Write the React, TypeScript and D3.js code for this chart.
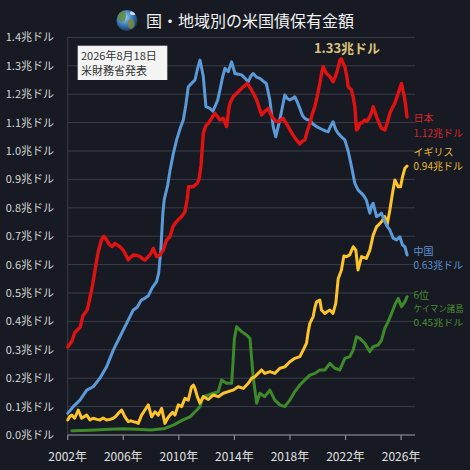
import React from "react";
import * as d3 from "d3";

const W = 470;
const H = 470;

const title = "国・地域別の米国債保有金額";
const yTicks = [0, 0.1, 0.2, 0.3, 0.4, 0.5, 0.6, 0.7, 0.8, 0.9, 1.0, 1.1, 1.2, 1.3, 1.4];
const xTicks = [2002, 2006, 2010, 2014, 2018, 2022, 2026];

const japan: [number, number][] = [
  [2002.0, 0.31], [2002.3, 0.33], [2002.5, 0.36], [2002.9, 0.38], [2003.1, 0.42], [2003.4, 0.44],
  [2003.5, 0.46], [2003.8, 0.53], [2004.1, 0.62], [2004.2, 0.645], [2004.45, 0.69], [2004.6, 0.7],
  [2004.8, 0.687], [2005.0, 0.67], [2005.2, 0.663], [2005.4, 0.675], [2005.6, 0.668], [2005.76, 0.663],
  [2006.0, 0.65], [2006.12, 0.64], [2006.36, 0.616], [2006.5, 0.625], [2006.72, 0.634], [2007.0, 0.632],
  [2007.2, 0.628], [2007.4, 0.62], [2007.56, 0.616], [2007.8, 0.628], [2008.0, 0.64], [2008.16, 0.657],
  [2008.4, 0.628], [2008.64, 0.634], [2008.88, 0.651], [2009.12, 0.687], [2009.36, 0.698], [2009.55, 0.73],
  [2009.72, 0.745], [2010.0, 0.76], [2010.2, 0.769], [2010.44, 0.786], [2010.6, 0.83], [2010.7, 0.874],
  [2011.04, 0.874], [2011.3, 0.885], [2011.45, 0.9], [2011.6, 0.95], [2011.76, 1.062], [2011.95, 1.09],
  [2012.12, 1.097], [2012.35, 1.115], [2012.6, 1.133], [2012.8, 1.12], [2012.96, 1.109], [2013.2, 1.115],
  [2013.44, 1.086], [2013.6, 1.15], [2013.68, 1.168], [2013.9, 1.19], [2014.16, 1.203], [2014.4, 1.215],
  [2014.64, 1.226], [2014.92, 1.238], [2015.1, 1.225], [2015.24, 1.215], [2015.4, 1.2], [2015.6, 1.18],
  [2015.8, 1.15], [2015.96, 1.127], [2016.2, 1.14], [2016.43, 1.15], [2016.6, 1.13], [2016.79, 1.115],
  [2017.0, 1.105], [2017.15, 1.103], [2017.35, 1.11], [2017.51, 1.115], [2017.7, 1.1], [2017.87, 1.086],
  [2018.05, 1.07], [2018.23, 1.056], [2018.45, 1.04], [2018.71, 1.025], [2018.9, 1.035], [2019.07, 1.039],
  [2019.25, 1.07], [2019.43, 1.097], [2019.6, 1.13], [2019.79, 1.156], [2019.95, 1.19], [2020.15, 1.238],
  [2020.3, 1.28], [2020.39, 1.297], [2020.5, 1.285], [2020.63, 1.273], [2020.87, 1.262], [2021.1, 1.244],
  [2021.25, 1.26], [2021.35, 1.273], [2021.5, 1.3], [2021.59, 1.32], [2021.7, 1.325], [2021.78, 1.314],
  [2021.95, 1.297], [2022.1, 1.26], [2022.19, 1.226], [2022.43, 1.215], [2022.55, 1.19], [2022.67, 1.156],
  [2022.75, 1.1], [2022.79, 1.074], [2022.9, 1.08], [2023.03, 1.097], [2023.2, 1.1], [2023.39, 1.109],
  [2023.55, 1.105], [2023.75, 1.121], [2023.9, 1.14], [2023.99, 1.156], [2024.1, 1.14], [2024.23, 1.121],
  [2024.4, 1.1], [2024.59, 1.08], [2024.83, 1.074], [2024.95, 1.09], [2025.19, 1.133], [2025.35, 1.15],
  [2025.55, 1.168], [2025.79, 1.203], [2026.03, 1.238], [2026.12, 1.215], [2026.19, 1.203], [2026.3, 1.17],
  [2026.43, 1.12],
];

const china: [number, number][] = [
  [2002.0, 0.076], [2002.4, 0.1], [2002.88, 0.123], [2003.37, 0.158], [2003.84, 0.17], [2004.32, 0.2],
  [2004.8, 0.24], [2005.28, 0.299], [2005.76, 0.346], [2006.24, 0.393], [2006.72, 0.44], [2007.0, 0.45],
  [2007.3, 0.475], [2007.5, 0.48], [2007.8, 0.49], [2008.1, 0.52], [2008.4, 0.54], [2008.55, 0.57],
  [2008.7, 0.65], [2008.85, 0.78], [2008.95, 0.83], [2009.2, 0.88], [2009.36, 0.93], [2009.6, 0.99],
  [2009.84, 1.039], [2010.1, 1.08], [2010.32, 1.109], [2010.5, 1.16], [2010.68, 1.226], [2010.92, 1.238],
  [2011.16, 1.25], [2011.35, 1.29], [2011.52, 1.32], [2011.65, 1.29], [2011.76, 1.262], [2011.95, 1.156],
  [2012.24, 1.15], [2012.45, 1.14], [2012.6, 1.156], [2012.8, 1.18], [2012.96, 1.215], [2013.15, 1.26],
  [2013.32, 1.291], [2013.56, 1.279], [2013.8, 1.314], [2014.04, 1.273], [2014.3, 1.27], [2014.52, 1.268],
  [2014.76, 1.256], [2015.0, 1.244], [2015.2, 1.265], [2015.35, 1.273], [2015.6, 1.26], [2015.83, 1.256],
  [2016.1, 1.245], [2016.3, 1.238], [2016.55, 1.18], [2016.79, 1.086], [2016.98, 1.05], [2017.15, 1.086],
  [2017.35, 1.13], [2017.63, 1.197], [2017.8, 1.185], [2017.99, 1.18], [2018.2, 1.185], [2018.35, 1.191],
  [2018.55, 1.17], [2018.71, 1.15], [2018.9, 1.125], [2019.07, 1.115], [2019.25, 1.11], [2019.43, 1.109],
  [2019.65, 1.095], [2019.91, 1.086], [2020.15, 1.08], [2020.39, 1.074], [2020.6, 1.07], [2020.75, 1.068],
  [2020.95, 1.09], [2021.1, 1.103], [2021.3, 1.075], [2021.47, 1.062], [2021.7, 1.05], [2021.95, 1.039],
  [2022.19, 1.0], [2022.43, 0.945], [2022.67, 0.886], [2022.9, 0.863], [2023.15, 0.851], [2023.35, 0.84],
  [2023.5, 0.827], [2023.75, 0.781], [2023.9, 0.81], [2023.99, 0.816], [2024.23, 0.769], [2024.45, 0.775],
  [2024.59, 0.781], [2024.83, 0.751], [2025.0, 0.735], [2025.19, 0.722], [2025.43, 0.693], [2025.67, 0.687],
  [2025.91, 0.698], [2026.1, 0.669], [2026.27, 0.663], [2026.43, 0.634],
];

const uk: [number, number][] = [
  [2002.0, 0.053], [2002.15, 0.065], [2002.29, 0.07], [2002.5, 0.059], [2002.76, 0.088], [2003.0, 0.059],
  [2003.2, 0.065], [2003.37, 0.07], [2003.6, 0.053], [2003.84, 0.059], [2004.1, 0.055], [2004.32, 0.053],
  [2004.55, 0.06], [2004.8, 0.053], [2005.05, 0.055], [2005.28, 0.059], [2005.45, 0.065], [2005.64, 0.076],
  [2005.88, 0.088], [2006.12, 0.064], [2006.36, 0.047], [2006.55, 0.05], [2006.72, 0.047], [2006.9, 0.045],
  [2007.08, 0.041], [2007.32, 0.07], [2007.56, 0.088], [2007.8, 0.106], [2008.04, 0.064], [2008.28, 0.082],
  [2008.52, 0.07], [2008.76, 0.094], [2009.0, 0.041], [2009.2, 0.06], [2009.36, 0.07], [2009.55, 0.08],
  [2009.72, 0.07], [2009.96, 0.106], [2010.2, 0.1], [2010.44, 0.129], [2010.68, 0.123], [2010.92, 0.17],
  [2011.05, 0.176], [2011.16, 0.164], [2011.33, 0.135], [2011.52, 0.112], [2011.76, 0.135], [2012.12, 0.125],
  [2012.48, 0.141], [2012.84, 0.135], [2013.2, 0.147], [2013.56, 0.153], [2013.91, 0.158], [2014.27, 0.17],
  [2014.64, 0.164], [2015.0, 0.182], [2015.24, 0.2], [2015.47, 0.205], [2015.71, 0.217], [2015.95, 0.229],
  [2016.19, 0.217], [2016.55, 0.223], [2016.91, 0.217], [2017.27, 0.235], [2017.63, 0.24], [2017.99, 0.258],
  [2018.35, 0.27], [2018.71, 0.276], [2018.95, 0.299], [2019.19, 0.323], [2019.3, 0.36], [2019.43, 0.393],
  [2019.67, 0.417], [2019.8, 0.45], [2019.91, 0.469], [2020.15, 0.475], [2020.27, 0.44], [2020.51, 0.428],
  [2020.7, 0.435], [2020.87, 0.44], [2021.1, 0.428], [2021.3, 0.464], [2021.47, 0.55], [2021.7, 0.58],
  [2021.88, 0.63], [2022.07, 0.628], [2022.3, 0.634], [2022.55, 0.663], [2022.74, 0.651], [2022.9, 0.581],
  [2023.15, 0.628], [2023.5, 0.622], [2023.75, 0.651], [2023.99, 0.704], [2024.23, 0.733], [2024.59, 0.751],
  [2024.83, 0.769], [2024.99, 0.739], [2025.19, 0.792], [2025.38, 0.851], [2025.55, 0.898], [2025.79, 0.874],
  [2025.96, 0.874], [2026.1, 0.909], [2026.27, 0.939], [2026.43, 0.947],
];

const cayman: [number, number][] = [
  [2002.3, 0.015], [2003.0, 0.016], [2004.0, 0.018], [2005.0, 0.02], [2006.0, 0.022], [2007.0, 0.02],
  [2008.0, 0.018], [2009.0, 0.023], [2009.6, 0.035], [2010.3, 0.053], [2010.8, 0.064], [2011.3, 0.088],
  [2011.52, 0.1], [2011.76, 0.135], [2012.12, 0.141], [2012.48, 0.147], [2012.84, 0.153], [2013.08, 0.194],
  [2013.44, 0.182], [2013.8, 0.182], [2013.91, 0.264], [2014.0, 0.34], [2014.16, 0.381], [2014.52, 0.364],
  [2014.88, 0.352], [2015.12, 0.34], [2015.35, 0.205], [2015.6, 0.112], [2015.83, 0.147], [2016.19, 0.135],
  [2016.55, 0.158], [2016.91, 0.123], [2017.27, 0.106], [2017.63, 0.1], [2017.99, 0.123], [2018.35, 0.153],
  [2018.71, 0.176], [2019.07, 0.194], [2019.43, 0.211], [2019.79, 0.217], [2020.15, 0.229], [2020.51, 0.229],
  [2020.87, 0.252], [2021.23, 0.235], [2021.59, 0.229], [2021.95, 0.27], [2022.31, 0.276], [2022.55, 0.299],
  [2022.79, 0.346], [2023.03, 0.34], [2023.39, 0.323], [2023.75, 0.293], [2023.99, 0.311], [2024.35, 0.317],
  [2024.59, 0.334], [2024.83, 0.376], [2025.07, 0.399], [2025.31, 0.428], [2025.55, 0.458], [2025.79, 0.481],
  [2026.03, 0.452], [2026.27, 0.469], [2026.43, 0.487],
];

const japanLabel = ["日本", "1.12兆ドル"];
const ukLabel = ["イギリス", "0.94兆ドル"];
const chinaLabel = ["中国", "0.63兆ドル"];
const caymanLabel = ["6位", "ケイマン諸島", "0.45兆ドル"];
const peakLabel = "1.33兆ドル";
const noteLines = ["2026年8月18日", "米財務省発表"];

const FONT = "'Noto Sans CJK JP', 'Noto Sans', sans-serif";

export default function App() {
  const x = d3.scaleLinear().domain([2002, 2027]).range([67.7, 415]);
  const y = d3.scaleLinear().domain([0, 1.4]).range([435, 37.4]);
  const line = d3
    .line<[number, number]>()
    .x((d) => x(d[0]))
    .y((d) => y(d[1]));

  const series = [
    { data: cayman, color: "#3e8a2a", w: 3 },
    { data: uk, color: "#fcc42a", w: 3 },
    { data: china, color: "#5b9ad8", w: 3 },
    { data: japan, color: "#e01212", w: 3.4 },
  ];

  const labelX = 413.5;
  const lf = 10;

  const fitText = (t: string) =>
    t.length >= 6 ? { fontSize: 9, textLength: 50, lengthAdjust: "spacingAndGlyphs" } : { fontSize: lf };

  return (
    <svg
      width={W}
      height={H}
      style={{ position: "fixed", left: 0, top: 0, display: "block" }}
      fontFamily={FONT}
    >
      <defs>
        <radialGradient id="globe" cx="40%" cy="35%" r="70%">
          <stop offset="0%" stopColor="#9fd0f5" />
          <stop offset="55%" stopColor="#3a78b8" />
          <stop offset="100%" stopColor="#13304f" />
        </radialGradient>
        <clipPath id="gclip">
          <circle cx={127} cy={20.5} r={10.5} />
        </clipPath>
      </defs>
      <rect x={0} y={0} width={W} height={H} fill="#171a22" />

      {/* title */}
      <circle cx={127} cy={20.5} r={10.5} fill="url(#globe)" />
      <g clipPath="url(#gclip)" opacity={0.85}>
        <ellipse cx={122} cy={16} rx={4} ry={6} fill="#5f8a3a" />
        <ellipse cx={131} cy={24} rx={3.5} ry={5} fill="#7a8a45" />
        <ellipse cx={133} cy={13} rx={3} ry={2} fill="#e8eef2" />
      </g>
      <text x={146} y={27} fontSize={16} fill="#f2f2f2">
        {title}
      </text>

      {/* grid */}
      {yTicks.map((t) => (
        <line key={t} x1={67.7} x2={415} y1={y(t)} y2={y(t)} stroke="#3b3e48" strokeWidth={1} />
      ))}
      <line x1={67.7} x2={67.7} y1={y(1.4)} y2={y(0)} stroke="#3b3e48" strokeWidth={1} />
      {yTicks.map((t) => (
        <text key={"l" + t} x={54} y={y(t) + 4} fontSize={11} fill="#d6d6d6" textAnchor="end">
          {t.toFixed(1)}兆ドル
        </text>
      ))}

      {/* x axis */}
      <line x1={67.7} x2={415} y1={y(0)} y2={y(0)} stroke="#8a8d96" strokeWidth={1.2} />
      {xTicks.map((t) => (
        <g key={t}>
          <line x1={x(t)} x2={x(t)} y1={y(0)} y2={y(0) + 5} stroke="#8a8d96" strokeWidth={1.2} />
          <text x={x(t)} y={461} fontSize={12} fill="#e0e0e0" textAnchor="middle">
            {t}年
          </text>
        </g>
      ))}

      {/* lines */}
      {series.map((s, i) => (
        <path
          key={i}
          d={line(s.data) || ""}
          fill="none"
          stroke={s.color}
          strokeWidth={s.w}
          strokeLinejoin="round"
          strokeLinecap="round"
        />
      ))}

      {/* note box */}
      <rect x={77.7} y={45.7} width={89.6} height={34.3} fill="#f4f4f4" />
      <text x={81} y={60} fontSize={11} fill="#333">
        {noteLines[0]}
      </text>
      <text x={81} y={75} fontSize={11} fill="#333">
        {noteLines[1]}
      </text>

      {/* peak label */}
      <text x={347} y={52.5} fontSize={13} fontWeight="bold" fill="#d8c27e" textAnchor="middle">
        {peakLabel}
      </text>

      {/* right labels */}
      {japanLabel.map((t, i) => (
        <text key={t} x={labelX} y={121.5 + i * 15} fontSize={lf} fill="#d8262a">
          {t}
        </text>
      ))}
      {ukLabel.map((t, i) => (
        <text key={t} x={labelX} y={156 + i * 14} fontSize={lf} fill="#e8b83c">
          {t}
        </text>
      ))}
      {chinaLabel.map((t, i) => (
        <text key={t} x={labelX} y={254.5 + i * 14.5} fontSize={lf} fill="#5f93d2">
          {t}
        </text>
      ))}
      {caymanLabel.map((t, i) => (
        <text key={t} x={labelX} y={298.5 + i * 13.5} fill="#4a8f30" {...fitText(t)}>
          {t}
        </text>
      ))}
    </svg>
  );
}
